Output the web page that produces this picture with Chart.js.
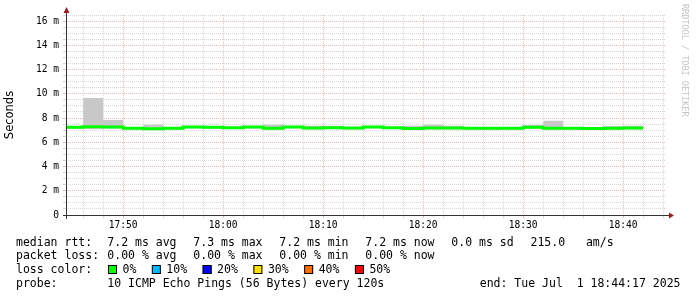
<!DOCTYPE html>
<html>
<head>
<meta charset="utf-8">
<script src="https://cdn.jsdelivr.net/npm/chart.js@4.4.1/dist/chart.umd.min.js"></script>
<style>
  html, body { margin: 0; padding: 0; background: #fff; }
</style>
</head>
<body>
<canvas id="smokeChart" width="697" height="297"></canvas>
<script>
// 2 minute rrd steps, first one is clipped by the window start
const binStarts = ["17:44", "17:46", "17:48", "17:50", "17:52", "17:54", "17:56", "17:58",
  "18:00", "18:02", "18:04", "18:06", "18:08", "18:10", "18:12", "18:14", "18:16", "18:18",
  "18:20", "18:22", "18:24", "18:26", "18:28", "18:30", "18:32", "18:34", "18:36", "18:38", "18:40"];
const binEnd = "18:42";
const windowStart = "17:44:17";
const windowEnd = "18:44:17";

// values in ms
const medianRtt = [7.23, 7.28, 7.25, 7.15, 7.12, 7.15, 7.26, 7.23, 7.20, 7.25, 7.15, 7.26, 7.18, 7.20, 7.17,
  7.27, 7.20, 7.13, 7.18, 7.18, 7.16, 7.15, 7.16, 7.24, 7.15, 7.16, 7.13, 7.16, 7.18];
const smokeHigh = [7.30, 9.65, 7.83, 7.25, 7.45, 7.20, 7.30, 7.28, 7.25, 7.30, 7.45, 7.30, 7.37, 7.37, 7.22,
  7.30, 7.25, 7.37, 7.45, 7.37, 7.22, 7.20, 7.22, 7.42, 7.78, 7.24, 7.20, 7.34, 7.37];
const smokeLow = [7.12, 7.10, 7.14, 7.06, 7.05, 7.08, 7.15, 7.12, 7.10, 7.14, 7.05, 7.15, 7.08, 7.10, 7.08,
  7.16, 7.10, 7.04, 7.08, 7.08, 7.06, 7.02, 7.06, 7.12, 7.05, 7.06, 7.04, 7.06, 7.08];

const yMax = 16.5;

const rttStats = ["7.2 ms avg", "7.3 ms max", "7.2 ms min", "7.2 ms now", "0.0 ms sd"];
const rttRate = "215.0   am/s";
const lossStats = ["0.00 % avg", "0.00 % max", "0.00 % min", "0.00 % now"];
const lossLabels = ["0%", "10%", "20%", "30%", "40%", "50%"];
const lossColors = ["#00ff00", "#00b8ff", "#0000ff", "#ffe000", "#ff7000", "#ff0000"];
const probeText = "10 ICMP Echo Pings (56 Bytes) every 120s";
const endText = "end: Tue Jul  1 18:44:17 2025";

function toMin(t) {
  const p = t.split(":").map(Number);
  return p[0] * 60 + p[1] + (p[2] || 0) / 60;
}
function fmt(m) {
  const h = Math.floor(m / 60), mm = Math.round(m - h * 60);
  return h + ":" + String(mm).padStart(2, "0");
}

const xs = binStarts.map(toMin).concat([toMin(binEnd)]);
function steps(vals) {
  return xs.map((x, i) => ({ x: x, y: vals[Math.min(i, vals.length - 1)] }));
}

const MONO = "'DejaVu Sans Mono', monospace";
const majorGrid = "rgba(190, 40, 40, 0.33)";
const minorGrid = "rgba(140, 140, 140, 0.35)";

const rrdDecor = {
  id: "rrdDecor",
  afterDraw(chart) {
    const ctx = chart.ctx;
    const a = chart.chartArea;
    ctx.save();

    // axes
    ctx.strokeStyle = "#333";
    ctx.lineWidth = 1;
    ctx.beginPath();
    ctx.moveTo(a.left + 0.5, a.bottom + 4);
    ctx.lineTo(a.left + 0.5, a.top - 3);
    ctx.moveTo(a.left - 3, a.bottom + 0.5);
    ctx.lineTo(a.right + 4, a.bottom + 0.5);
    ctx.stroke();

    // arrows
    ctx.fillStyle = "#9b1c1c";
    ctx.beginPath();
    ctx.moveTo(a.left + 0.5, a.top - 8);
    ctx.lineTo(a.left - 2.5, a.top - 2);
    ctx.lineTo(a.left + 3.5, a.top - 2);
    ctx.closePath();
    ctx.fill();
    ctx.beginPath();
    ctx.moveTo(a.right + 8, a.bottom + 0.5);
    ctx.lineTo(a.right + 3, a.bottom - 2.5);
    ctx.lineTo(a.right + 3, a.bottom + 3.5);
    ctx.closePath();
    ctx.fill();

    // vertical axis title
    ctx.fillStyle = "#000";
    ctx.font = "11.5px 'DejaVu Sans', sans-serif";
    ctx.textAlign = "center";
    ctx.textBaseline = "middle";
    ctx.save();
    ctx.translate(10, 115);
    ctx.rotate(-Math.PI / 2);
    ctx.fillText("Seconds", 0, 0);
    ctx.restore();

    // watermark
    ctx.save();
    ctx.fillStyle = "#c4c4c4";
    ctx.font = "8.5px " + MONO;
    ctx.translate(682, 4);
    ctx.rotate(Math.PI / 2);
    ctx.textAlign = "left";
    ctx.textBaseline = "alphabetic";
    ctx.fillText("RRDTOOL / TOBI OETIKER", 0, 0);
    ctx.restore();

    // legend block
    ctx.font = "11.5px " + MONO;
    ctx.textAlign = "left";
    ctx.textBaseline = "alphabetic";
    ctx.fillStyle = "#000";
    const col0 = 16, col1 = 107.3, step = 86;
    const rows = [245.7, 259.2, 273.3, 287];

    ctx.fillText("median rtt:", col0, rows[0]);
    rttStats.forEach((s, i) => ctx.fillText(s, col1 + step * i, rows[0]));
    ctx.fillText(rttRate, 530.5, rows[0]);

    ctx.fillText("packet loss:", col0, rows[1]);
    lossStats.forEach((s, i) => ctx.fillText(s, col1 + step * i, rows[1]));

    ctx.fillText("loss color:", col0, rows[2]);
    let x = 108;
    lossLabels.forEach((lab, i) => {
      ctx.fillStyle = lossColors[i];
      ctx.fillRect(x, rows[2] - 8.3, 9, 9);
      ctx.strokeStyle = "#000";
      ctx.strokeRect(x + 0.5, rows[2] - 7.8, 8, 8);
      ctx.fillStyle = "#000";
      ctx.fillText(lab, x + 14.5, rows[2]);
      x = x + 14.5 + ctx.measureText(lab).width + 15.5;
    });

    ctx.fillText("probe:", col0, rows[3]);
    ctx.fillText(probeText, col1, rows[3]);
    ctx.textAlign = "right";
    ctx.fillText(endText, 680.5, rows[3]);

    ctx.restore();
  }
};

new Chart(document.getElementById("smokeChart"), {
  type: "line",
  data: {
    datasets: [
      {
        label: "smoke low",
        data: steps(smokeLow),
        stepped: true,
        borderColor: "rgba(0,0,0,0)",
        borderWidth: 0,
        pointRadius: 0,
        fill: false,
        clip: 0,
      },
      {
        label: "smoke high",
        data: steps(smokeHigh),
        stepped: true,
        borderColor: "rgba(0,0,0,0)",
        borderWidth: 0,
        backgroundColor: "#c8c8c8",
        pointRadius: 0,
        fill: 0,
        clip: 0,
      },
      {
        label: "median rtt",
        data: steps(medianRtt),
        stepped: true,
        borderColor: "#00ff00",
        borderWidth: 3,
        pointRadius: 0,
        fill: false,
        clip: 0,
        order: -1,
      },
    ],
  },
  options: {
    responsive: false,
    animation: false,
    layout: { padding: { left: 0, top: 15, right: 31, bottom: 62 } },
    plugins: {
      legend: { display: false },
      tooltip: { enabled: false },
    },
    scales: {
      x: {
        type: "linear",
        min: toMin(windowStart),
        max: toMin(windowEnd),
        afterBuildTicks: (s) => {
          const t = [];
          for (let v = Math.ceil(s.min / 2) * 2; v <= s.max; v += 2) t.push({ value: v });
          s.ticks = t;
        },
        afterFit: (s) => { s.height = 20; },
        ticks: {
          autoSkip: false,
          maxRotation: 0,
          padding: 2,
          color: "#000",
          font: { family: MONO, size: 9.6 },
          callback: (v) => (v % 10 === 0 ? fmt(v) : ""),
        },
        grid: {
          color: (c) => (c.tick && c.tick.value % 10 === 0 ? majorGrid : minorGrid),
          tickLength: 3,
        },
        border: { display: false, dash: [1, 1] },
      },
      y: {
        min: 0,
        max: yMax,
        afterBuildTicks: (s) => {
          const t = [];
          for (let i = 0; i * 0.5 <= s.max; i++) t.push({ value: i * 0.5 });
          s.ticks = t;
        },
        afterFit: (s) => { s.width = 66; },
        ticks: {
          autoSkip: false,
          padding: 4,
          color: "#000",
          font: { family: MONO, size: 9.6 },
          callback: (v) => (v % 2 === 0 ? (v === 0 ? "0" : v + " m") : ""),
        },
        grid: {
          color: (c) => (c.tick && c.tick.value % 2 === 0 ? majorGrid : minorGrid),
          tickLength: 3,
        },
        border: { display: false, dash: [1, 1] },
      },
    },
  },
  plugins: [rrdDecor],
});
</script>
</body>
</html>
